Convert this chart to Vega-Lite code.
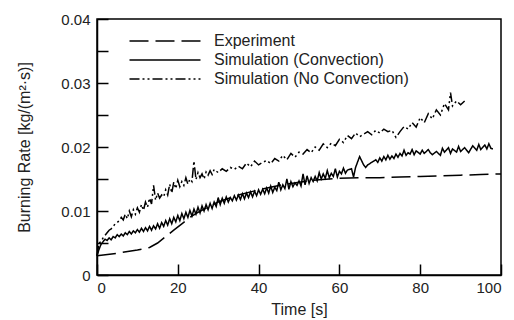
{
  "$schema": "https://vega.github.io/schema/vega-lite/v6.json",
  "width": 404,
  "height": 256,
  "autosize": {"type": "none"},
  "padding": {"left": 97, "top": 19, "right": 13, "bottom": 45},
  "background": "white",
  "config": {
    "font": "Liberation Sans",
    "view": {"stroke": "black", "strokeWidth": 1.5},
    "axis": {
      "grid": false,
      "domainColor": "black",
      "domainWidth": 1.5,
      "tickColor": "black",
      "tickWidth": 1.5,
      "tickSize": -11,
      "labelColor": "#222",
      "labelFontSize": 15,
      "titleColor": "#222",
      "titleFontSize": 16,
      "titleFontWeight": "normal"
    }
  },
  "data": {
    "values": [
      {"s":"E","t":0,"v":0.0030},{"s":"E","t":5,"v":0.0034},{"s":"E","t":10,"v":0.0039},{"s":"E","t":13,"v":0.0043},{"s":"E","t":15,"v":0.0050},{"s":"E","t":17,"v":0.0060},{"s":"E","t":19,"v":0.0070},{"s":"E","t":21,"v":0.0080},{"s":"E","t":23,"v":0.0090},{"s":"E","t":25,"v":0.0098},{"s":"E","t":28,"v":0.0108},{"s":"E","t":30,"v":0.0114},{"s":"E","t":35,"v":0.0125},{"s":"E","t":40,"v":0.0133},{"s":"E","t":45,"v":0.0140},{"s":"E","t":50,"v":0.0145},{"s":"E","t":55,"v":0.0149},{"s":"E","t":60,"v":0.0151},{"s":"E","t":65,"v":0.0152},{"s":"E","t":70,"v":0.0152},{"s":"E","t":75,"v":0.0153},{"s":"E","t":80,"v":0.0154},{"s":"E","t":85,"v":0.0155},{"s":"E","t":90,"v":0.0156},{"s":"E","t":95,"v":0.0157},{"s":"E","t":100,"v":0.0158},

      {"s":"C","t":0,"v":0.0030},{"s":"C","t":0.5,"v":0.0040},{"s":"C","t":1,"v":0.0048},{"s":"C","t":1.5,"v":0.0052},{"s":"C","t":2,"v":0.0056},{"s":"C","t":2.5,"v":0.0054},{"s":"C","t":3,"v":0.0058},{"s":"C","t":3.5,"v":0.0055},{"s":"C","t":4,"v":0.0060},{"s":"C","t":4.5,"v":0.0058},{"s":"C","t":5,"v":0.0063},{"s":"C","t":5.5,"v":0.0060},{"s":"C","t":6,"v":0.0064},{"s":"C","t":6.5,"v":0.0061},{"s":"C","t":7,"v":0.0066},{"s":"C","t":7.5,"v":0.0063},{"s":"C","t":8,"v":0.0068},{"s":"C","t":8.5,"v":0.0064},{"s":"C","t":9,"v":0.0069},{"s":"C","t":9.5,"v":0.0066},{"s":"C","t":10,"v":0.0071},{"s":"C","t":10.5,"v":0.0067},{"s":"C","t":11,"v":0.0073},{"s":"C","t":11.5,"v":0.0068},{"s":"C","t":12,"v":0.0074},{"s":"C","t":12.5,"v":0.0069},{"s":"C","t":13,"v":0.0076},{"s":"C","t":13.5,"v":0.0070},{"s":"C","t":14,"v":0.0077},{"s":"C","t":14.5,"v":0.0072},{"s":"C","t":15,"v":0.0080},{"s":"C","t":15.5,"v":0.0073},{"s":"C","t":16,"v":0.0082},{"s":"C","t":16.5,"v":0.0076},{"s":"C","t":17,"v":0.0085},{"s":"C","t":17.5,"v":0.0078},{"s":"C","t":18,"v":0.0088},{"s":"C","t":18.5,"v":0.0080},{"s":"C","t":19,"v":0.0090},{"s":"C","t":19.5,"v":0.0083},{"s":"C","t":20,"v":0.0093},{"s":"C","t":20.5,"v":0.0085},{"s":"C","t":21,"v":0.0096},{"s":"C","t":21.5,"v":0.0088},{"s":"C","t":22,"v":0.0098},{"s":"C","t":22.5,"v":0.0090},{"s":"C","t":23,"v":0.0101},{"s":"C","t":23.5,"v":0.0092},{"s":"C","t":24,"v":0.0103},{"s":"C","t":24.5,"v":0.0095},{"s":"C","t":25,"v":0.0106},{"s":"C","t":25.5,"v":0.0097},{"s":"C","t":26,"v":0.0108},{"s":"C","t":26.5,"v":0.0100},{"s":"C","t":27,"v":0.0110},{"s":"C","t":27.5,"v":0.0102},{"s":"C","t":28,"v":0.0112},{"s":"C","t":28.5,"v":0.0104},{"s":"C","t":29,"v":0.0114},{"s":"C","t":29.5,"v":0.0107},{"s":"C","t":30,"v":0.0121},{"s":"C","t":30.5,"v":0.0110},{"s":"C","t":31,"v":0.0120},{"s":"C","t":31.5,"v":0.0112},{"s":"C","t":32,"v":0.0122},{"s":"C","t":32.5,"v":0.0114},{"s":"C","t":33,"v":0.0121},{"s":"C","t":33.5,"v":0.0116},{"s":"C","t":34,"v":0.0124},{"s":"C","t":34.5,"v":0.0117},{"s":"C","t":35,"v":0.0125},{"s":"C","t":35.5,"v":0.0118},{"s":"C","t":36,"v":0.0127},{"s":"C","t":36.5,"v":0.0119},{"s":"C","t":37,"v":0.0128},{"s":"C","t":37.5,"v":0.0121},{"s":"C","t":38,"v":0.0130},{"s":"C","t":38.5,"v":0.0122},{"s":"C","t":39,"v":0.0131},{"s":"C","t":39.5,"v":0.0124},{"s":"C","t":40,"v":0.0133},{"s":"C","t":40.5,"v":0.0126},{"s":"C","t":41,"v":0.0134},{"s":"C","t":41.5,"v":0.0127},{"s":"C","t":42,"v":0.0136},{"s":"C","t":42.5,"v":0.0128},{"s":"C","t":43,"v":0.0139},{"s":"C","t":43.5,"v":0.0129},{"s":"C","t":44,"v":0.0137},{"s":"C","t":44.5,"v":0.0132},{"s":"C","t":45,"v":0.0145},{"s":"C","t":45.5,"v":0.0133},{"s":"C","t":46,"v":0.0141},{"s":"C","t":46.5,"v":0.0135},{"s":"C","t":47,"v":0.0150},{"s":"C","t":47.5,"v":0.0134},{"s":"C","t":48,"v":0.0146},{"s":"C","t":48.5,"v":0.0138},{"s":"C","t":49,"v":0.0144},{"s":"C","t":49.5,"v":0.0140},{"s":"C","t":50,"v":0.0147},{"s":"C","t":50.5,"v":0.0139},{"s":"C","t":51,"v":0.0158},{"s":"C","t":51.5,"v":0.0141},{"s":"C","t":52,"v":0.0155},{"s":"C","t":52.5,"v":0.0143},{"s":"C","t":53,"v":0.0152},{"s":"C","t":53.5,"v":0.0146},{"s":"C","t":54,"v":0.0154},{"s":"C","t":54.5,"v":0.0147},{"s":"C","t":55,"v":0.0160},{"s":"C","t":55.5,"v":0.0150},{"s":"C","t":56,"v":0.0158},{"s":"C","t":56.5,"v":0.0151},{"s":"C","t":57,"v":0.0163},{"s":"C","t":57.5,"v":0.0152},{"s":"C","t":58,"v":0.0159},{"s":"C","t":58.5,"v":0.0154},{"s":"C","t":59,"v":0.0166},{"s":"C","t":59.5,"v":0.0153},{"s":"C","t":60,"v":0.0162},{"s":"C","t":60.5,"v":0.0158},{"s":"C","t":61,"v":0.0167},{"s":"C","t":61.5,"v":0.0159},{"s":"C","t":62,"v":0.0164},{"s":"C","t":63,"v":0.0166},{"s":"C","t":63.5,"v":0.0153},{"s":"C","t":64,"v":0.0168},{"s":"C","t":65,"v":0.0185},{"s":"C","t":66,"v":0.0172},{"s":"C","t":66.5,"v":0.0168},{"s":"C","t":67,"v":0.0172},{"s":"C","t":68,"v":0.0176},{"s":"C","t":69,"v":0.0180},{"s":"C","t":69.5,"v":0.0176},{"s":"C","t":70,"v":0.0183},{"s":"C","t":70.5,"v":0.0178},{"s":"C","t":71,"v":0.0185},{"s":"C","t":71.5,"v":0.0180},{"s":"C","t":72,"v":0.0187},{"s":"C","t":72.5,"v":0.0181},{"s":"C","t":73,"v":0.0186},{"s":"C","t":73.5,"v":0.0182},{"s":"C","t":74,"v":0.0189},{"s":"C","t":74.5,"v":0.0184},{"s":"C","t":75,"v":0.0190},{"s":"C","t":75.5,"v":0.0186},{"s":"C","t":76,"v":0.0195},{"s":"C","t":76.5,"v":0.0187},{"s":"C","t":77,"v":0.0191},{"s":"C","t":77.5,"v":0.0189},{"s":"C","t":78,"v":0.0196},{"s":"C","t":78.5,"v":0.0188},{"s":"C","t":79,"v":0.0194},{"s":"C","t":80,"v":0.0189},{"s":"C","t":80.5,"v":0.0195},{"s":"C","t":81,"v":0.0190},{"s":"C","t":82,"v":0.0196},{"s":"C","t":82.5,"v":0.0191},{"s":"C","t":83,"v":0.0188},{"s":"C","t":84,"v":0.0193},{"s":"C","t":85,"v":0.0187},{"s":"C","t":85.5,"v":0.0198},{"s":"C","t":86,"v":0.0192},{"s":"C","t":87,"v":0.0199},{"s":"C","t":87.5,"v":0.0190},{"s":"C","t":88,"v":0.0197},{"s":"C","t":89,"v":0.0192},{"s":"C","t":89.5,"v":0.0201},{"s":"C","t":90,"v":0.0193},{"s":"C","t":91,"v":0.0199},{"s":"C","t":92,"v":0.0191},{"s":"C","t":93,"v":0.0202},{"s":"C","t":94,"v":0.0195},{"s":"C","t":94.5,"v":0.0204},{"s":"C","t":95,"v":0.0196},{"s":"C","t":96,"v":0.0203},{"s":"C","t":96.5,"v":0.0197},{"s":"C","t":97,"v":0.0205},{"s":"C","t":97.5,"v":0.0198},{"s":"C","t":98,"v":0.0197},

      {"s":"N","t":0,"v":0.0030},{"s":"N","t":0.5,"v":0.0050},{"s":"N","t":1,"v":0.0052},{"s":"N","t":1.5,"v":0.0058},{"s":"N","t":2,"v":0.0062},{"s":"N","t":2.5,"v":0.0066},{"s":"N","t":3,"v":0.0070},{"s":"N","t":3.5,"v":0.0072},{"s":"N","t":4,"v":0.0076},{"s":"N","t":4.5,"v":0.0080},{"s":"N","t":5,"v":0.0082},{"s":"N","t":5.5,"v":0.0085},{"s":"N","t":6,"v":0.0090},{"s":"N","t":6.5,"v":0.0086},{"s":"N","t":7,"v":0.0095},{"s":"N","t":7.5,"v":0.0088},{"s":"N","t":8,"v":0.0100},{"s":"N","t":8.5,"v":0.0091},{"s":"N","t":9,"v":0.0102},{"s":"N","t":9.5,"v":0.0095},{"s":"N","t":10,"v":0.0105},{"s":"N","t":10.5,"v":0.0098},{"s":"N","t":11,"v":0.0110},{"s":"N","t":11.5,"v":0.0101},{"s":"N","t":12,"v":0.0114},{"s":"N","t":12.5,"v":0.0106},{"s":"N","t":13,"v":0.0120},{"s":"N","t":13.5,"v":0.0111},{"s":"N","t":14,"v":0.0140},{"s":"N","t":14.5,"v":0.0117},{"s":"N","t":15,"v":0.0128},{"s":"N","t":15.5,"v":0.0120},{"s":"N","t":16,"v":0.0125},{"s":"N","t":16.5,"v":0.0122},{"s":"N","t":17,"v":0.0133},{"s":"N","t":17.5,"v":0.0125},{"s":"N","t":18,"v":0.0142},{"s":"N","t":18.5,"v":0.0128},{"s":"N","t":19,"v":0.0145},{"s":"N","t":19.5,"v":0.0135},{"s":"N","t":20,"v":0.0148},{"s":"N","t":20.5,"v":0.0138},{"s":"N","t":21,"v":0.0146},{"s":"N","t":21.5,"v":0.0140},{"s":"N","t":22,"v":0.0152},{"s":"N","t":22.5,"v":0.0142},{"s":"N","t":23,"v":0.0150},{"s":"N","t":23.5,"v":0.0146},{"s":"N","t":24,"v":0.0178},{"s":"N","t":24.5,"v":0.0149},{"s":"N","t":25,"v":0.0160},{"s":"N","t":25.5,"v":0.0152},{"s":"N","t":26,"v":0.0158},{"s":"N","t":26.5,"v":0.0150},{"s":"N","t":27,"v":0.0161},{"s":"N","t":27.5,"v":0.0156},{"s":"N","t":28,"v":0.0163},{"s":"N","t":28.5,"v":0.0157},{"s":"N","t":29,"v":0.0165},{"s":"N","t":30,"v":0.0160},{"s":"N","t":31,"v":0.0166},{"s":"N","t":32,"v":0.0162},{"s":"N","t":33,"v":0.0168},{"s":"N","t":34,"v":0.0165},{"s":"N","t":35,"v":0.0170},{"s":"N","t":36,"v":0.0166},{"s":"N","t":37,"v":0.0175},{"s":"N","t":38,"v":0.0169},{"s":"N","t":39,"v":0.0178},{"s":"N","t":40,"v":0.0172},{"s":"N","t":41,"v":0.0176},{"s":"N","t":42,"v":0.0179},{"s":"N","t":43,"v":0.0174},{"s":"N","t":44,"v":0.0182},{"s":"N","t":45,"v":0.0178},{"s":"N","t":46,"v":0.0187},{"s":"N","t":47,"v":0.0180},{"s":"N","t":48,"v":0.0190},{"s":"N","t":49,"v":0.0184},{"s":"N","t":50,"v":0.0192},{"s":"N","t":51,"v":0.0189},{"s":"N","t":52,"v":0.0196},{"s":"N","t":53,"v":0.0191},{"s":"N","t":54,"v":0.0200},{"s":"N","t":55,"v":0.0195},{"s":"N","t":56,"v":0.0205},{"s":"N","t":57,"v":0.0199},{"s":"N","t":58,"v":0.0206},{"s":"N","t":59,"v":0.0202},{"s":"N","t":60,"v":0.0212},{"s":"N","t":61,"v":0.0207},{"s":"N","t":62,"v":0.0218},{"s":"N","t":63,"v":0.0213},{"s":"N","t":64,"v":0.0222},{"s":"N","t":65,"v":0.0216},{"s":"N","t":66,"v":0.0220},{"s":"N","t":67,"v":0.0224},{"s":"N","t":68,"v":0.0219},{"s":"N","t":69,"v":0.0226},{"s":"N","t":70,"v":0.0222},{"s":"N","t":71,"v":0.0228},{"s":"N","t":72,"v":0.0224},{"s":"N","t":73,"v":0.0226},{"s":"N","t":74,"v":0.0215},{"s":"N","t":75,"v":0.0224},{"s":"N","t":76,"v":0.0232},{"s":"N","t":77,"v":0.0228},{"s":"N","t":78,"v":0.0238},{"s":"N","t":79,"v":0.0231},{"s":"N","t":80,"v":0.0246},{"s":"N","t":81,"v":0.0238},{"s":"N","t":82,"v":0.0252},{"s":"N","t":83,"v":0.0244},{"s":"N","t":84,"v":0.0258},{"s":"N","t":85,"v":0.0250},{"s":"N","t":86,"v":0.0268},{"s":"N","t":87,"v":0.0258},{"s":"N","t":87.5,"v":0.0285},{"s":"N","t":88,"v":0.0264},{"s":"N","t":89,"v":0.0272},{"s":"N","t":90,"v":0.0266},{"s":"N","t":91,"v":0.0272}
    ]
  },
  "mark": {"type": "line", "color": "black", "strokeWidth": 1.5},
  "encoding": {
    "x": {
      "field": "t",
      "type": "quantitative",
      "scale": {"domain": [0, 100], "nice": false},
      "axis": {"values": [0, 20, 40, 60, 80, 100], "title": "Time [s]", "labelPadding": 16, "titlePadding": 6, "format": "d"}
    },
    "y": {
      "field": "v",
      "type": "quantitative",
      "scale": {"domain": [0, 0.04], "nice": false, "zero": true},
      "axis": {
        "values": [0, 0.005, 0.01, 0.015, 0.02, 0.025, 0.03, 0.035, 0.04],
        "format": ".2~f",
        "labelExpr": "round(datum.value*200) % 2 == 0 ? datum.label : ''",
        "title": "Burning Rate [kg/(m²·s)]",
        "labelPadding": 18,
        "titlePadding": 28
      }
    },
    "strokeDash": {
      "field": "s",
      "type": "nominal",
      "scale": {"domain": ["E", "C", "N"], "range": [[19, 7], [1, 0], [10, 3, 2, 3, 2, 3]]},
      "legend": {
        "title": null,
        "orient": "none",
        "legendX": 57,
        "legendY": 11,
        "labelExpr": "datum.label == 'E' ? 'Experiment' : datum.label == 'C' ? 'Simulation (Convection)' : 'Simulation (No Convection)'",
        "labelFontSize": 16,
        "labelColor": "#222",
        "labelLimit": 400,
        "labelOffset": 38,
        "symbolType": "M-3.55,0H3.55",
        "symbolSize": 400,
        "symbolStrokeColor": "black",
        "symbolStrokeWidth": 1.5,
        "rowPadding": 0
      }
    }
  }
}
